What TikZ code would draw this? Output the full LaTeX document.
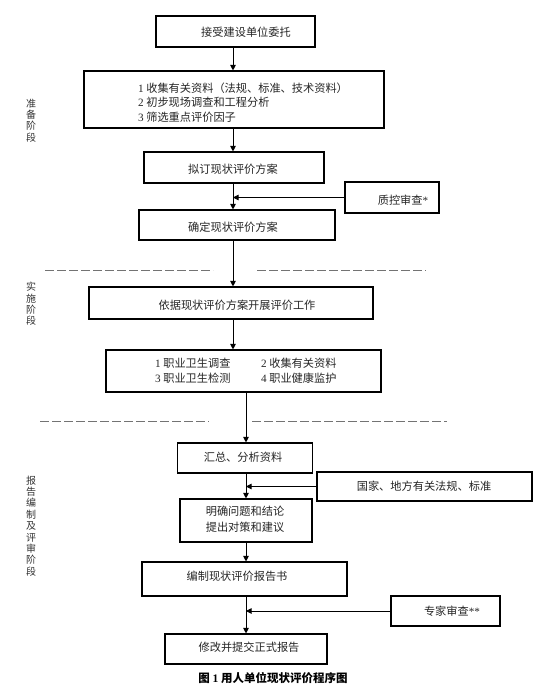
\documentclass[tikz,border=0pt]{standalone}
\usepackage{fontspec}
\setmainfont{Liberation Serif}
\newfontfamily\cjk{Noto Sans CJK SC}
\newfontfamily\lat{Liberation Serif}
\usetikzlibrary{arrows.meta}
\newcommand\dg[1]{{\lat #1}}
\begin{document}
\begin{tikzpicture}[x=1pt,y=-1pt,
  box/.style={draw=black, line width=1.1pt, rectangle, inner sep=0pt},
  txt/.style={inner sep=0pt, text=black!85, font=\cjk\fontsize{11.2}{14.5}\selectfont},
  side/.style={inner sep=0pt, text=black!80, align=center, font=\cjk\fontsize{10}{11.4}\selectfont},
  arr/.style={draw=black, line width=0.9pt, -{Triangle[length=5.5pt,width=5.5pt]}},
  sep/.style={draw=black!55, line width=0.8pt, dash pattern=on 9pt off 3pt}]
\useasboundingbox (0,0) rectangle (557,690);
\fill[white] (0,0) rectangle (557,690);
\coordinate (xa) at (233,0);
\coordinate (xb) at (246,0);
% boxes
\node[box, minimum width=159pt, minimum height=31pt] (b1) at (235.5,31.5) {};
\node[box, minimum width=300pt, minimum height=57pt] (b2) at (234,99.5) {};
\node[box, minimum width=180pt, minimum height=31pt] (b3) at (234,167.5) {};
\node[box, minimum width=94pt, minimum height=31pt] (qc) at (392,197.5) {};
\node[box, minimum width=196pt, minimum height=30pt] (b4) at (237,225) {};
\node[box, minimum width=284pt, minimum height=32pt] (b5) at (231,303) {};
\node[box, minimum width=275pt, minimum height=42pt] (b6) at (243.5,371) {};
\node[box, minimum width=135pt, minimum height=30pt] (b7) at (245,458) {};
\node[box, minimum width=215pt, minimum height=29pt] (gj) at (424.5,486.5) {};
\node[box, minimum width=132pt, minimum height=43pt] (b8) at (246,520.5) {};
\node[box, minimum width=205pt, minimum height=34pt] (b9) at (244.5,579) {};
\node[box, minimum width=109pt, minimum height=30pt] (zj) at (445.5,611) {};
\node[box, minimum width=162pt, minimum height=30pt] (b10) at (246,649) {};
% texts
\node[txt] (t1) at (246,32) {接受建设单位委托};
\node[txt, anchor=west, align=left] (t2) at (138,102.5) {\dg{1} 收集有关资料（法规、标准、技术资料）\\\dg{2} 初步现场调查和工程分析\\\dg{3} 筛选重点评价因子};
\node[txt] (t3) at (233,169) {拟订现状评价方案};
\node[txt] (tqc) at (403,200) {质控审查\dg{*}};
\node[txt] (t4) at (233,227) {确定现状评价方案};
\node[txt] (t5) at (237,305) {依据现状评价方案开展评价工作};
\node[txt, anchor=west, align=left] (t6a) at (155,370.5) {\dg{1} 职业卫生调查\\\dg{3} 职业卫生检测};
\node[txt, anchor=west, align=left] (t6b) at (261,370.5) {\dg{2} 收集有关资料\\\dg{4} 职业健康监护};
\node[txt] (t7) at (243,457) {汇总、分析资料};
\node[txt] (tgj) at (424,486) {国家、地方有关法规、标准};
\node[txt, align=center, font=\cjk\fontsize{11.2}{16}\selectfont] (t8) at (245,519) {明确问题和结论\\提出对策和建议};
\node[txt] (t9) at (237,576) {编制现状评价报告书};
\node[txt] (tzj) at (452,611) {专家审查\dg{**}};
\node[txt] (t10) at (249,647) {修改并提交正式报告};
\node[inner sep=0pt, font=\cjk\bfseries\fontsize{11.5}{13}\selectfont] (cap) at (273,678) {图 {\lat\bfseries 1} 用人单位现状评价程序图};
% stage labels
\node[side] (s1) at (31,120.5) {准\\备\\阶\\段};
\node[side] (s2) at (31,304) {实\\施\\阶\\段};
\node[side] (s3) at (31,526) {报\\告\\编\\制\\及\\评\\审\\阶\\段};
% separators
\draw[sep] (45,270) -- (213,270);
\draw[sep] (257,270) -- (426,270);
\draw[sep] (40,421) -- (209,421);
\draw[sep] (252,421) -- (447,421);
% connectors
\draw[arr] (b1.south -| xa) -- (b2.north -| xa);
\draw[arr] (b2.south -| xa) -- (b3.north -| xa);
\draw[arr] (b3.south -| xa) -- (b4.north -| xa);
\draw[arr] (qc.west) -- (qc.west -| xa);
\draw[arr] (b4.south -| xa) -- (b5.north -| xa);
\draw[arr] (b5.south -| xa) -- (b6.north -| xa);
\draw[arr] (b6.south -| xb) -- (b7.north -| xb);
\draw[arr] (b7.south -| xb) -- (b8.north -| xb);
\draw[arr] (gj.west) -- (gj.west -| xb);
\draw[arr] (b8.south -| xb) -- (b9.north -| xb);
\draw[arr] (b9.south -| xb) -- (b10.north -| xb);
\draw[arr] (zj.west) -- (zj.west -| xb);
\end{tikzpicture}
\end{document}
